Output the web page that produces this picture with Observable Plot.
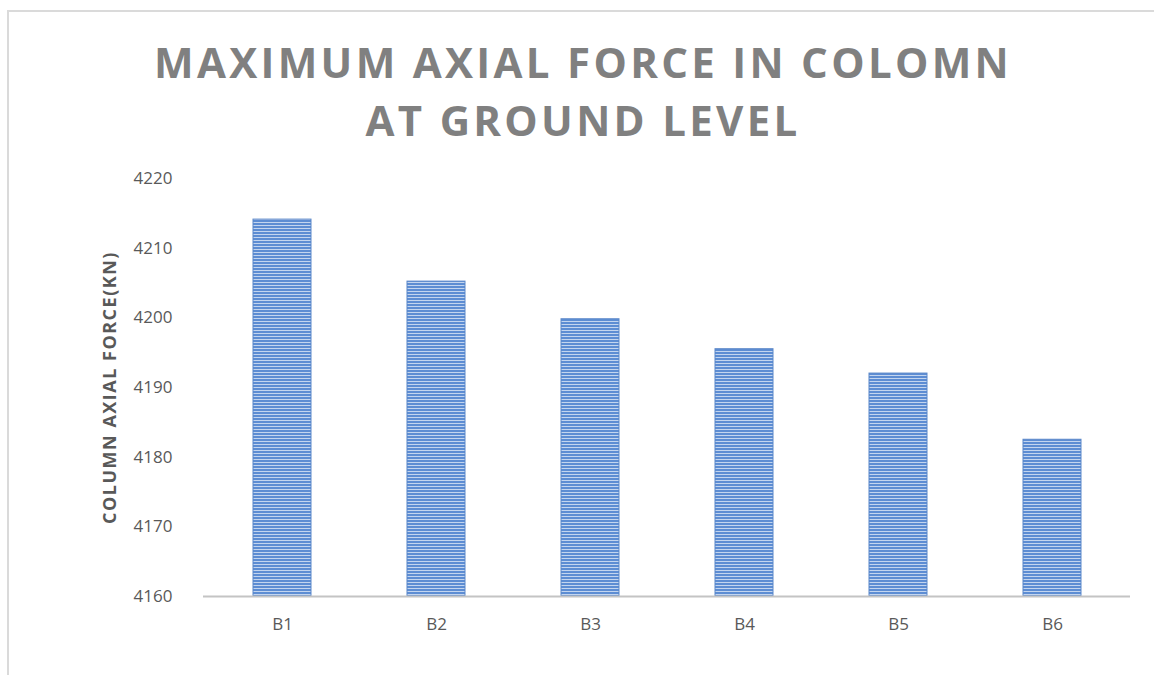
<!DOCTYPE html>
<html>
<head>
<meta charset="utf-8">
<script src="https://cdn.jsdelivr.net/npm/d3@7"></script>
<script src="https://cdn.jsdelivr.net/npm/@observablehq/plot@0.6"></script>
<style>
  html, body { margin: 0; padding: 0; background: #fff; overflow: hidden; }
  #page { position: relative; width: 1154px; height: 675px; overflow: hidden; }
  #frame { position: absolute; left: 7px; top: 10px; width: 1200px; height: 700px;
           border: 2px solid #dadada; box-sizing: border-box; }
  #title { position: absolute; left: 0; top: 33px; width: 1166px; text-align: center;
           font-family: "Open Sans", sans-serif; font-weight: 700; font-size: 42px;
           line-height: 58px; letter-spacing: 3.3px; color: #808080; }
  #chart { position: absolute; left: 0; top: 160px; }
</style>
</head>
<body>
<div id="page">
  <div id="frame"></div>
  <div id="title">MAXIMUM AXIAL FORCE IN COLOMN<br>AT GROUND LEVEL</div>
  <div id="chart"></div>
</div>
<script>
// Column axial force at ground level for each building case
const buildings = ["B1", "B2", "B3", "B4", "B5", "B6"];
const axialForce = [4214.1, 4205.2, 4199.8, 4195.5, 4192.0, 4182.5];
const yTicks = [4160, 4170, 4180, 4190, 4200, 4210, 4220];
const yLabel = "COLUMN AXIAL FORCE(KN)";

const rows = buildings.map((b, i) => ({building: b, force: axialForce[i]}));
const base = yTicks[0];

const chart = Plot.plot({
  width: 1154,
  height: 515,
  marginTop: 18,
  marginBottom: 79,
  marginLeft: 203,
  marginRight: 24,
  style: {fontFamily: "'Open Sans', sans-serif", fontSize: "17px", color: "#595959", background: "transparent"},
  x: {domain: buildings, paddingInner: 0.625, paddingOuter: 0.3125, label: null, tickSize: 0, tickPadding: 21},
  y: {domain: [yTicks[0], yTicks[yTicks.length - 1]], ticks: yTicks, tickFormat: d3.format("d"), label: null, tickSize: 0, tickPadding: 31},
  marks: [
    Plot.barY(rows, {x: "building", y1: () => base, y2: "force", fill: "url(#stripes)", stroke: "#5b87c9", strokeWidth: 1}),
    Plot.ruleY([base], {stroke: "#c4c4c4", strokeWidth: 2}),
    Plot.text([yLabel], {frameAnchor: "left", dx: -93, rotate: -90, textAnchor: "middle", fontWeight: "bold", fontSize: 18, fill: "#595959"})
  ]
});

const svg = d3.select(chart);
// Letter spacing for the rotated axis title
svg.selectAll("text").filter(function () { return this.textContent === yLabel; })
  .style("letter-spacing", "1.5px");

// Horizontal stripe fill for the bars
const pat = svg.insert("defs", ":first-child")
  .append("pattern")
  .attr("id", "stripes")
  .attr("patternUnits", "userSpaceOnUse")
  .attr("width", 6).attr("height", 3);
pat.append("rect").attr("width", 6).attr("height", 3).attr("fill", "#c3d5ef");
pat.append("rect").attr("width", 6).attr("height", 2).attr("fill", "#5d8dd3");

document.getElementById("chart").appendChild(chart);
</script>
</body>
</html>
